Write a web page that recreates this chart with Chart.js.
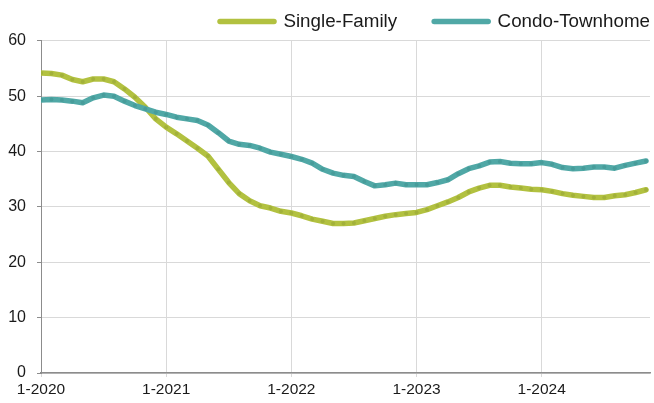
<!DOCTYPE html>
<html>
<head>
<meta charset="utf-8">
<script src="https://cdn.jsdelivr.net/npm/chart.js@4.4.1/dist/chart.umd.min.js"></script>
<style>
  html, body { margin: 0; padding: 0; background: #ffffff; }
  #wrap { width: 654px; height: 403px; position: relative; }
</style>
</head>
<body>
<div id="wrap"><canvas id="c" width="654" height="403"></canvas></div>
<script>
// ---- data ----
const months = [
  "1-2020","2-2020","3-2020","4-2020","5-2020","6-2020","7-2020","8-2020","9-2020","10-2020","11-2020","12-2020",
  "1-2021","2-2021","3-2021","4-2021","5-2021","6-2021","7-2021","8-2021","9-2021","10-2021","11-2021","12-2021",
  "1-2022","2-2022","3-2022","4-2022","5-2022","6-2022","7-2022","8-2022","9-2022","10-2022","11-2022","12-2022",
  "1-2023","2-2023","3-2023","4-2023","5-2023","6-2023","7-2023","8-2023","9-2023","10-2023","11-2023","12-2023",
  "1-2024","2-2024","3-2024","4-2024","5-2024","6-2024","7-2024","8-2024","9-2024","10-2024","11-2024"
];
const xTickLabels = ["1-2020","1-2021","1-2022","1-2023","1-2024"];
const yTicks = [0, 10, 20, 30, 40, 50, 60];
const seriesNames = ["Single-Family", "Condo-Townhome"];

const singleFamily = [
  54.2,54.1,53.8,53.0,52.6,53.1,53.1,52.6,51.3,49.8,48.0,45.9,
  44.4,43.2,41.9,40.6,39.2,36.8,34.4,32.4,31.1,30.2,29.8,29.2,
  28.9,28.4,27.8,27.4,27.0,27.0,27.1,27.5,27.9,28.3,28.6,28.8,
  29.0,29.5,30.2,30.9,31.7,32.7,33.4,33.9,33.9,33.6,33.4,33.2,
  33.1,32.8,32.4,32.1,31.9,31.7,31.7,32.0,32.2,32.6,33.1
];
const condoTownhome = [
  49.3,49.4,49.3,49.1,48.8,49.7,50.2,50.0,49.1,48.3,47.7,47.1,
  46.7,46.2,45.9,45.6,44.8,43.4,41.9,41.3,41.1,40.6,39.9,39.5,
  39.1,38.6,37.9,36.8,36.1,35.7,35.5,34.6,33.8,34.0,34.3,34.0,
  34.0,34.0,34.4,34.9,36.0,36.9,37.4,38.1,38.2,37.9,37.8,37.8,
  38.0,37.7,37.1,36.9,37.0,37.2,37.2,37.0,37.5,37.9,38.3
];

// ---- styling ----
const FONT = '"Liberation Sans", Arial, Helvetica, sans-serif';
const SF_COLOR = '#b2c140';
const SF_POINT = '#a2b13a';
const CT_COLOR = '#50a8a6';
const CT_POINT = '#479c9a';
const GRID = '#d9d9d9';
const AXIS = '#8c8c8c';

const xTickIdx = xTickLabels.map(l => months.indexOf(l));
const toXY = arr => arr.map((v, i) => ({ x: i, y: v }));

Chart.defaults.font.family = FONT;
Chart.defaults.color = '#1a1a1a';

const legendShift = {
  id: 'legendShift',
  afterLayout(chart) {
    const l = chart.legend;
    if (l) { l.left += 33; l.right += 33; }
  }
};

new Chart(document.getElementById('c'), {
  type: 'line',
  plugins: [legendShift],
  data: {
    datasets: [
      {
        label: seriesNames[1],
        data: toXY(condoTownhome),
        borderColor: CT_COLOR,
        backgroundColor: CT_COLOR,
        borderWidth: 5.5,
        borderCapStyle: 'round',
        borderJoinStyle: 'round',
        pointRadius: 2,
        pointBorderWidth: 0,
        pointBackgroundColor: CT_POINT,
        tension: 0
      },
      {
        label: seriesNames[0],
        data: toXY(singleFamily),
        borderColor: SF_COLOR,
        backgroundColor: SF_COLOR,
        borderWidth: 5.5,
        borderCapStyle: 'round',
        borderJoinStyle: 'round',
        pointRadius: 2,
        pointBorderWidth: 0,
        pointBackgroundColor: SF_POINT,
        tension: 0
      }
    ]
  },
  options: {
    responsive: false,
    animation: false,
    devicePixelRatio: 1,
    layout: { padding: { top: -25, right: 0, left: 0, bottom: 0 } },
    plugins: {
      tooltip: { enabled: false },
      legend: {
        position: 'top',
        align: 'end',
        labels: {
          usePointStyle: true,
          pointStyle: 'line',
          pointStyleWidth: 54,
          padding: 37,
          color: '#1a1a1a',
          font: { size: 18.8, family: FONT },
          sort: (a, b) => b.datasetIndex - a.datasetIndex,
          generateLabels: (chart) => {
            const items = Chart.defaults.plugins.legend.labels.generateLabels(chart);
            items.forEach(it => {
              const ds = chart.data.datasets[it.datasetIndex];
              it.strokeStyle = ds.borderColor;
              it.fillStyle = ds.borderColor;
              it.lineWidth = 5.5;
              it.lineCap = 'round';
              it.pointStyle = 'line';
            });
            return items;
          }
        }
      }
    },
    scales: {
      x: {
        type: 'linear',
        min: 0,
        max: 613 / 10.5,
        afterBuildTicks: (scale) => { scale.ticks = xTickIdx.map(v => ({ value: v })); },
        afterFit: (scale) => { scale.height = 30; scale.paddingRight = 0; },
        ticks: {
          autoSkip: false,
          maxRotation: 0,
          padding: 3,
          font: { size: 15.5, family: FONT },
          color: '#1a1a1a',
          callback: (v) => months[v]
        },
        grid: { color: GRID, lineWidth: 1, tickLength: 4, tickColor: GRID },
        border: { color: AXIS, width: 1.5 }
      },
      y: {
        min: 0,
        max: 60,
        afterBuildTicks: (scale) => { scale.ticks = yTicks.map(v => ({ value: v })); },
        afterFit: (scale) => { scale.width = 41; },
        ticks: {
          padding: 11,
          font: { size: 16, family: FONT },
          color: '#1a1a1a'
        },
        grid: { color: GRID, lineWidth: 1, tickLength: 4, tickColor: AXIS },
        border: { color: AXIS, width: 1 }
      }
    }
  }
});
</script>
</body>
</html>
